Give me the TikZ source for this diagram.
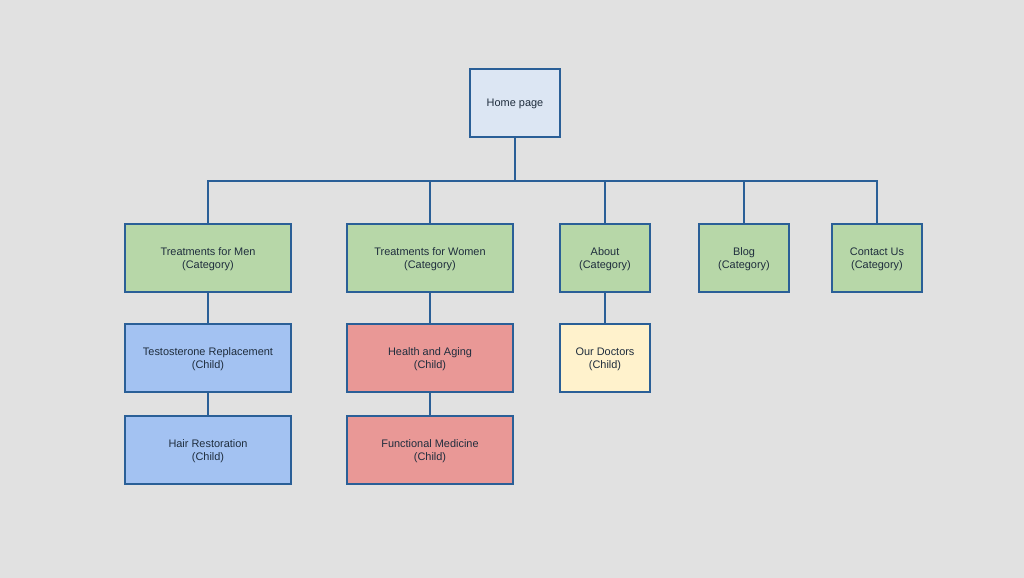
\documentclass[tikz,border=0pt]{standalone}
\usepackage{fontspec}
\setmainfont{Liberation Sans}
\begin{document}
\begin{tikzpicture}[x=0.75pt,y=-0.75pt,
  every node/.style={font=\fontsize{8.2}{9.8}\selectfont, text=txt, align=center, inner sep=0pt, text depth=0pt},
  box/.style={draw=bord, line width=1.3pt, minimum height=51pt},
  wide/.style={box, minimum width=124.5pt},
  narrow/.style={box, minimum width=68pt},
  link/.style={draw=bord, line width=1.4pt}]
\definecolor{bg}{HTML}{E1E1E1}
\definecolor{bord}{HTML}{2A5F97}
\definecolor{txt}{HTML}{1F2D3D}
\definecolor{homef}{HTML}{DCE6F3}
\definecolor{greenf}{HTML}{B7D7A8}
\definecolor{bluef}{HTML}{A3C2F2}
\definecolor{redf}{HTML}{E99896}
\definecolor{yellowf}{HTML}{FFF2CC}
\fill[bg] (0,0) rectangle (1024,578);
\useasboundingbox (0,0) rectangle (1024,578);
\node[narrow, fill=homef] (home) at (515,103) {Home page};
\node[wide, fill=greenf] (men) at (208,258) {Treatments for Men\\(Category)};
\node[wide, fill=greenf] (women) at (430,258) {Treatments for Women\\(Category)};
\node[narrow, fill=greenf] (about) at (605,258) {About\\(Category)};
\node[narrow, fill=greenf] (blog) at (744,258) {Blog\\(Category)};
\node[narrow, fill=greenf] (contact) at (877,258) {Contact Us\\(Category)};
\node[wide, fill=bluef] (testo) at (208,358) {Testosterone Replacement\\(Child)};
\node[wide, fill=bluef] (hair) at (208,450) {Hair Restoration\\(Child)};
\node[wide, fill=redf] (health) at (430,358) {Health and Aging\\(Child)};
\node[wide, fill=redf] (func) at (430,450) {Functional Medicine\\(Child)};
\node[narrow, fill=yellowf] (doc) at (605,358) {Our Doctors\\(Child)};
\coordinate (bus) at (515,181);
\draw[link] (home.south) -- (bus);
\foreach \n in {men,women,about,blog,contact}
  \draw[link] (bus) -| (\n.north);
\draw[link] (men) -- (testo);
\draw[link] (testo) -- (hair);
\draw[link] (women) -- (health);
\draw[link] (health) -- (func);
\draw[link] (about) -- (doc);
\end{tikzpicture}
\end{document}
